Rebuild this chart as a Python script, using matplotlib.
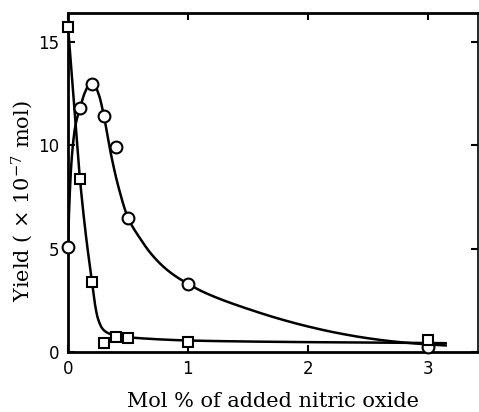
import numpy as np
import matplotlib
matplotlib.use("Agg")
import matplotlib.pyplot as plt

plt.rcParams["mathtext.fontset"] = "dejavuserif"

# Measured points
circle_x = [0.0, 0.1, 0.2, 0.3, 0.4, 0.5, 1.0, 3.0]
circle_y = [5.1, 11.8, 12.95, 11.4, 9.9, 6.5, 3.3, 0.25]
square_x = [0.0, 0.1, 0.2, 0.3, 0.4, 0.5, 1.0, 3.0]
square_y = [15.75, 8.35, 3.4, 0.42, 0.72, 0.68, 0.48, 0.58]

# Hand-drawn smooth curves
circle_curve_x = [0.0, 0.01, 0.03, 0.06, 0.1, 0.14, 0.18, 0.22, 0.26, 0.3, 0.35, 0.42,
                  0.5, 0.6, 0.7, 0.8, 0.9, 1.0, 1.1, 1.25, 1.5, 1.75, 2.0, 2.25, 2.5,
                  2.75, 3.0, 3.15]
circle_curve_y = [5.1, 7.0, 9.3, 10.9, 11.8, 12.55, 12.95, 12.9, 12.4, 11.4, 9.8, 8.0,
                  6.5, 5.5, 4.7, 4.1, 3.65, 3.3, 2.98, 2.6, 2.08, 1.62, 1.23, 0.91, 0.66,
                  0.48, 0.36, 0.31]
square_curve_x = [0.0, 0.05, 0.1, 0.15, 0.2, 0.225, 0.25, 0.29, 0.33, 0.375, 0.45, 0.6,
                  1.0, 1.5, 2.0, 2.5, 3.0, 3.15]
square_curve_y = [15.75, 12.0, 8.35, 5.6, 3.4, 2.3, 1.6, 1.1, 0.92, 0.82, 0.74, 0.66,
                  0.55, 0.5, 0.47, 0.45, 0.43, 0.42]


def pchip(x, y, xn):
    x = np.asarray(x, float); y = np.asarray(y, float)
    h = np.diff(x); d = np.diff(y) / h
    m = np.zeros_like(y)
    for k in range(1, len(x) - 1):
        if d[k - 1] * d[k] > 0:
            w1 = 2 * h[k] + h[k - 1]; w2 = h[k] + 2 * h[k - 1]
            m[k] = (w1 + w2) / (w1 / d[k - 1] + w2 / d[k])
    m[0] = d[0]; m[-1] = d[-1]
    idx = np.clip(np.searchsorted(x, xn) - 1, 0, len(x) - 2)
    t = (xn - x[idx]) / h[idx]
    h00 = 2 * t**3 - 3 * t**2 + 1; h10 = t**3 - 2 * t**2 + t
    h01 = -2 * t**3 + 3 * t**2; h11 = t**3 - t**2
    return h00 * y[idx] + h10 * h[idx] * m[idx] + h01 * y[idx + 1] + h11 * h[idx] * m[idx + 1]


fig = plt.figure(figsize=(4.79, 4.12), dpi=100)
ax = fig.add_axes([0.142, 0.146, 0.856, 0.822])

xs = np.linspace(0, 3.15, 800)
ax.plot(xs, pchip(circle_curve_x, circle_curve_y, xs), color="black", lw=1.8, zorder=2)
ax.plot(xs, pchip(square_curve_x, square_curve_y, xs), color="black", lw=1.8, zorder=2)

ax.plot(circle_x, circle_y, linestyle="none", marker="o", markersize=8.5,
        markerfacecolor="white", markeredgecolor="black", markeredgewidth=1.5,
        zorder=3, clip_on=False)
ax.plot(square_x, square_y, linestyle="none", marker="s", markersize=7.5,
        markerfacecolor="white", markeredgecolor="black", markeredgewidth=1.5,
        zorder=3, clip_on=False)

ax.set_xlim(0, 3.42)
ax.set_ylim(0, 16.4)
ax.set_xticks([0, 1, 2, 3])
ax.set_yticks([0, 5, 10, 15])
ax.tick_params(direction="in", length=5, width=1.5, top=True, right=True,
               labelsize=12, pad=6)
for lab in ax.get_xticklabels() + ax.get_yticklabels():
    lab.set_family(["Liberation Sans Narrow", "DejaVu Sans"])

for s in ["left", "bottom", "top"]:
    ax.spines[s].set_linewidth(2)
ax.spines["right"].set_linewidth(1.2)

ax.set_xlabel("Mol % of added nitric oxide", fontsize=15, family="DejaVu Serif",
              labelpad=10)
ax.set_ylabel("Yield ( × 10$^{-7}$ mol)", fontsize=15, family="DejaVu Serif")
ax.yaxis.set_label_coords(-0.08, 0.445)

fig.savefig("out.png", dpi=100)
